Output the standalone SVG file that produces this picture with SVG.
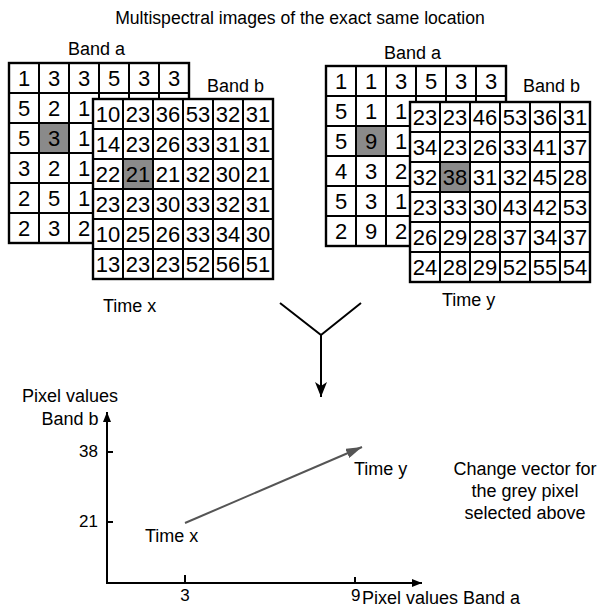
<svg xmlns="http://www.w3.org/2000/svg" width="599" height="607" viewBox="0 0 599 607">
<style>
text{font-family:"Liberation Sans",Arial,sans-serif;fill:#000}
.lbl{font-size:18px}
.hdr{font-size:17.6px}
.n text{font-size:22px;text-anchor:middle}
.bg{fill:#fff;stroke:#000;stroke-width:2.4}
.gl{fill:none;stroke:#000;stroke-width:2}
.gr{fill:#8a8a8a}
.ln{fill:none;stroke:#000;stroke-width:2}
.tick{font-size:17px}
</style>
<defs>
<marker id="ah" markerWidth="10" markerHeight="8" refX="10" refY="4" orient="auto" markerUnits="userSpaceOnUse">
<path d="M0,0 L10,4 L0,8 z" fill="#000"/>
</marker>
<marker id="ahd" markerWidth="15" markerHeight="12" refX="15" refY="6" orient="auto" markerUnits="userSpaceOnUse" viewBox="0 0 15 12">
<path d="M0,0 L15,6 L0,12 L4,6 z" fill="#000"/>
</marker>
<marker id="ahg" markerWidth="16" markerHeight="10" refX="16" refY="5" orient="auto" markerUnits="userSpaceOnUse">
<path d="M0,0 L16,5 L0,10 z" fill="#555"/>
</marker>
</defs>

<g id="title"><text class="hdr" x="300" y="24" text-anchor="middle">Multispectral images of the exact same location</text></g>

<g id="left-band-a" class="n">
<rect class="bg" x="9" y="63" width="180" height="180"/>
<rect class="gr" x="39" y="123" width="30" height="30"/>
<path class="gl" d="M39,63V243M69,63V243M99,63V243M129,63V243M159,63V243M9,93H189M9,123H189M9,153H189M9,183H189M9,213H189"/>
<text x="24" y="86">1</text><text x="54" y="86">3</text><text x="84" y="86">3</text><text x="114" y="86">5</text><text x="144" y="86">3</text><text x="174" y="86">3</text>
<text x="24" y="116">5</text><text x="54" y="116">2</text><text x="84" y="116">1</text>
<text x="24" y="146">5</text><text x="54" y="146">3</text><text x="84" y="146">1</text>
<text x="24" y="176">3</text><text x="54" y="176">2</text><text x="84" y="176">1</text>
<text x="24" y="206">2</text><text x="54" y="206">5</text><text x="84" y="206">1</text>
<text x="24" y="236">2</text><text x="54" y="236">3</text><text x="84" y="236">2</text>
</g>
<g id="left-band-a-label"><text class="lbl" x="68" y="55">Band a</text></g>

<g id="left-band-b" class="n">
<rect class="bg" x="93" y="99" width="180" height="180"/>
<rect class="gr" x="123" y="159" width="30" height="30"/>
<path class="gl" d="M123,99V279M153,99V279M183,99V279M213,99V279M243,99V279M93,129H273M93,159H273M93,189H273M93,219H273M93,249H273"/>
<text x="108" y="122">10</text><text x="138" y="122">23</text><text x="168" y="122">36</text><text x="198" y="122">53</text><text x="228" y="122">32</text><text x="258" y="122">31</text>
<text x="108" y="152">14</text><text x="138" y="152">23</text><text x="168" y="152">26</text><text x="198" y="152">33</text><text x="228" y="152">31</text><text x="258" y="152">31</text>
<text x="108" y="182">22</text><text x="138" y="182">21</text><text x="168" y="182">21</text><text x="198" y="182">32</text><text x="228" y="182">30</text><text x="258" y="182">21</text>
<text x="108" y="212">23</text><text x="138" y="212">23</text><text x="168" y="212">30</text><text x="198" y="212">33</text><text x="228" y="212">32</text><text x="258" y="212">31</text>
<text x="108" y="242">10</text><text x="138" y="242">25</text><text x="168" y="242">26</text><text x="198" y="242">33</text><text x="228" y="242">34</text><text x="258" y="242">30</text>
<text x="108" y="272">13</text><text x="138" y="272">23</text><text x="168" y="272">23</text><text x="198" y="272">52</text><text x="228" y="272">56</text><text x="258" y="272">51</text>
</g>
<g id="left-band-b-label"><text class="lbl" x="207" y="92">Band b</text></g>
<g id="time-x-label"><text class="lbl" x="103" y="312">Time x</text></g>

<g id="right-band-a" class="n">
<rect class="bg" x="326" y="66" width="180" height="180"/>
<rect class="gr" x="356" y="126" width="30" height="30"/>
<path class="gl" d="M356,66V246M386,66V246M416,66V246M446,66V246M476,66V246M326,96H506M326,126H506M326,156H506M326,186H506M326,216H506"/>
<text x="341" y="89">1</text><text x="371" y="89">1</text><text x="401" y="89">3</text><text x="431" y="89">5</text><text x="461" y="89">3</text><text x="491" y="89">3</text>
<text x="341" y="119">5</text><text x="371" y="119">1</text><text x="401" y="119">1</text>
<text x="341" y="149">5</text><text x="371" y="149">9</text><text x="401" y="149">1</text>
<text x="341" y="179">4</text><text x="371" y="179">3</text><text x="401" y="179">2</text>
<text x="341" y="209">5</text><text x="371" y="209">3</text><text x="401" y="209">1</text>
<text x="341" y="239">2</text><text x="371" y="239">9</text><text x="401" y="239">2</text>
</g>
<g id="right-band-a-label"><text class="lbl" x="384" y="59">Band a</text></g>

<g id="right-band-b" class="n">
<rect class="bg" x="410" y="102" width="180" height="180"/>
<rect class="gr" x="440" y="162" width="30" height="30"/>
<path class="gl" d="M440,102V282M470,102V282M500,102V282M530,102V282M560,102V282M410,132H590M410,162H590M410,192H590M410,222H590M410,252H590"/>
<text x="425" y="125">23</text><text x="455" y="125">23</text><text x="485" y="125">46</text><text x="515" y="125">53</text><text x="545" y="125">36</text><text x="575" y="125">31</text>
<text x="425" y="155">34</text><text x="455" y="155">23</text><text x="485" y="155">26</text><text x="515" y="155">33</text><text x="545" y="155">41</text><text x="575" y="155">37</text>
<text x="425" y="185">32</text><text x="455" y="185">38</text><text x="485" y="185">31</text><text x="515" y="185">32</text><text x="545" y="185">45</text><text x="575" y="185">28</text>
<text x="425" y="215">23</text><text x="455" y="215">33</text><text x="485" y="215">30</text><text x="515" y="215">43</text><text x="545" y="215">42</text><text x="575" y="215">53</text>
<text x="425" y="245">26</text><text x="455" y="245">29</text><text x="485" y="245">28</text><text x="515" y="245">37</text><text x="545" y="245">34</text><text x="575" y="245">37</text>
<text x="425" y="275">24</text><text x="455" y="275">28</text><text x="485" y="275">29</text><text x="515" y="275">52</text><text x="545" y="275">55</text><text x="575" y="275">54</text>
</g>
<g id="right-band-b-label"><text class="lbl" x="523" y="92">Band b</text></g>
<g id="time-y-label"><text class="lbl" x="442" y="306">Time y</text></g>

<g id="connectors">
<path class="ln" d="M280,303L321,335L361,303"/>
<path class="ln" d="M321,335V397" marker-end="url(#ahd)"/>
</g>

<g id="chart">
<path class="ln" d="M107,583V412" marker-end="url(#ah)"/>
<path class="ln" d="M106,583H422" marker-end="url(#ah)"/>
<path class="ln" d="M107,452H113M107,522H113M185,575V583M355,577V583"/>
<text class="lbl" x="70" y="402" text-anchor="middle">Pixel values</text>
<text class="lbl" x="70" y="425" text-anchor="middle">Band b</text>
<text class="tick" x="98" y="457" text-anchor="end">38</text>
<text class="tick" x="98" y="527" text-anchor="end">21</text>
<text class="tick" x="185" y="601" text-anchor="middle">3</text>
<text class="tick" x="351" y="601">9</text>
<text class="lbl" x="362" y="604">Pixel values Band a</text>
<path d="M185,523L362,447" fill="none" stroke="#555" stroke-width="2" marker-end="url(#ahg)"/>
<text class="lbl" x="145" y="542">Time x</text>
<text class="lbl" x="354" y="475">Time y</text>
</g>

<g id="note">
<text class="lbl" x="525" y="475" text-anchor="middle">Change vector for</text>
<text class="lbl" x="525" y="497" text-anchor="middle">the grey pixel</text>
<text class="lbl" x="525" y="519" text-anchor="middle">selected above</text>
</g>
</svg>
